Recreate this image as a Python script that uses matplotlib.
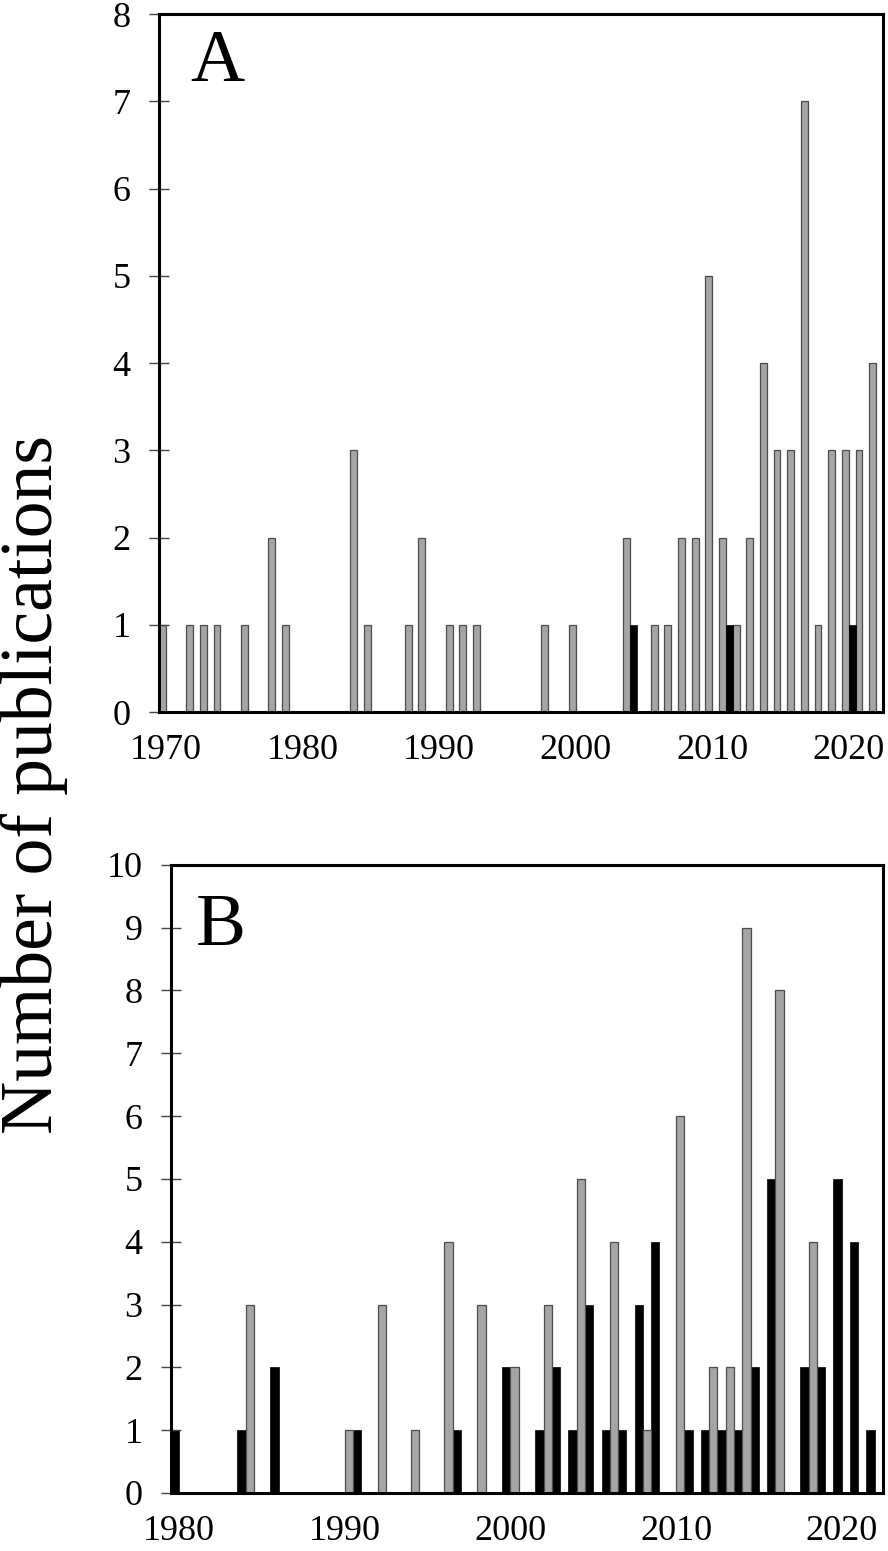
import numpy as np
import matplotlib
matplotlib.use("Agg")
import matplotlib.pyplot as plt

plt.rcParams["font.family"] = ["Liberation Serif", "DejaVu Serif"]

# ---- panel A -------------------------------------------------------
a_gray_years = [1970, 1972, 1973, 1974, 1976, 1978, 1979, 1984, 1985, 1988, 1989,
                1991, 1992, 1993, 1998, 2000, 2004, 2006, 2007, 2008, 2009, 2010,
                2011, 2012, 2013, 2014, 2015, 2016, 2017, 2018, 2019, 2020, 2021, 2022]
a_gray_vals = [1, 1, 1, 1, 1, 2, 1, 3, 1, 1, 2,
               1, 1, 1, 1, 1, 2, 1, 1, 2, 2, 5,
               2, 1, 2, 4, 3, 3, 7, 1, 3, 3, 3, 4]
a_black_years = [2004, 2011, 2020]
a_black_vals = [1, 1, 1]

# ---- panel B -------------------------------------------------------
b_black_years = [1980, 1984, 1986, 1991, 1997, 2000, 2002, 2003, 2004, 2005, 2006,
                 2007, 2008, 2009, 2011, 2012, 2013, 2014, 2015, 2016, 2018, 2019,
                 2020, 2021, 2022]
b_black_vals = [1, 1, 2, 1, 1, 2, 1, 2, 1, 3, 1,
                1, 3, 4, 1, 1, 1, 1, 2, 5, 2, 2,
                5, 4, 1]
b_gray_years = [1984, 1990, 1992, 1994, 1996, 1998, 2000, 2002, 2004, 2006, 2008,
                2010, 2012, 2013, 2014, 2016, 2018]
b_gray_vals = [3, 1, 3, 1, 4, 3, 2, 3, 5, 4, 1,
               6, 2, 2, 9, 8, 4]

GRAY = "#a5a5a5"
GRAY_EDGE = "#4d4d4d"
W = 0.5


def style(ax, ymax, x0, x1, ticks):
    ax.set_xlim(x0 - 0.5, x1 + 0.5)
    ax.set_ylim(0, ymax)
    ax.set_yticks(range(ymax + 1))
    ax.set_xticks(ticks)
    ax.tick_params(axis="y", direction="inout", length=15, width=1.0,
                   color="#444444", labelsize=26, pad=13)
    ax.tick_params(axis="x", length=0, labelsize=26, pad=16)
    for s in ax.spines.values():
        s.set_linewidth(2.2)
        s.set_zorder(5)


fig = plt.figure(figsize=(8.88, 15.51), dpi=100)

axA = fig.add_axes([0.1790, 0.5409, 0.8153, 0.450])
axA.bar(np.array(a_gray_years) - W / 2, a_gray_vals, width=W, color=GRAY,
        edgecolor=GRAY_EDGE, linewidth=0.9)
axA.bar(np.array(a_black_years) + W / 2, a_black_vals, width=W, color="black",
        edgecolor="black", linewidth=0.5)
style(axA, 8, 1970, 2022, [1970, 1980, 1990, 2000, 2010, 2020])
axA.text(0.08, 0.93, "A", transform=axA.transAxes, fontsize=54,
         ha="center", va="center")

axB = fig.add_axes([0.1926, 0.0374, 0.8018, 0.405])
axB.bar(np.array(b_black_years) - W / 2, b_black_vals, width=W, color="black",
        edgecolor="black", linewidth=0.5)
axB.bar(np.array(b_gray_years) + W / 2, b_gray_vals, width=W, color=GRAY,
        edgecolor=GRAY_EDGE, linewidth=0.9)
style(axB, 10, 1980, 2022, [1980, 1990, 2000, 2010, 2020])
axB.text(0.07, 0.90, "B", transform=axB.transAxes, fontsize=54,
         ha="center", va="center")

fig.text(52 / 888, 1 - 784 / 1551, "Number of publications", rotation=90,
         rotation_mode="anchor", fontsize=53, ha="center", va="baseline")

fig.savefig("out.png", dpi=100)
